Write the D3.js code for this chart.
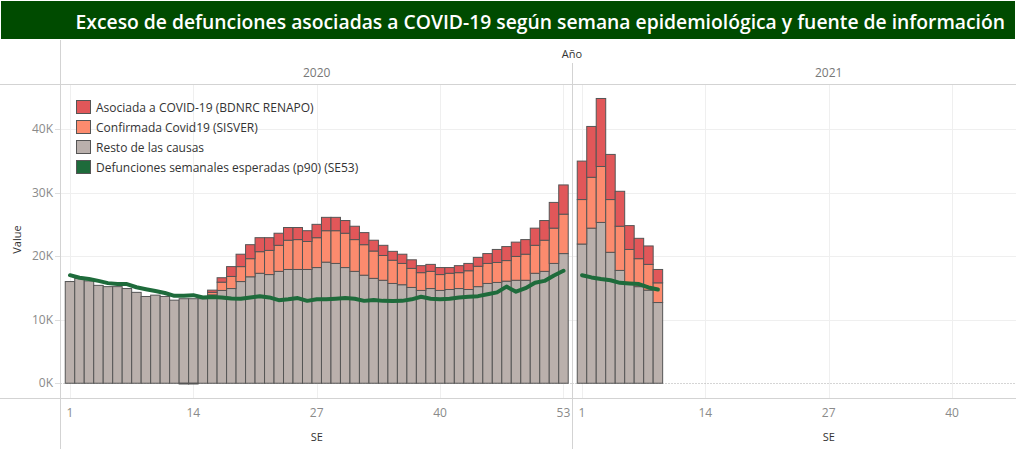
<!DOCTYPE html>
<meta charset="utf-8">
<style>
body { margin: 0; background: #fff; }
svg { display: block; font-family: "Open Sans", sans-serif; }
.grid line { stroke: #efefef; stroke-width: 1px; }
.frame { stroke: #d3d3d3; stroke-width: 1px; }
.tick-label { fill: #8a8a8a; font-size: 12px; }
.bar { stroke: #555; stroke-width: 1px; }
.legend text { fill: #333; font-size: 12px; }
</style>
<body>
<script src="https://cdn.jsdelivr.net/npm/d3@7"></script>
<script>

// data (deaths per epidemiological week)
var titleText = "Exceso de defunciones asociadas a COVID-19 según semana epidemiológica y fuente de información";
var years = ["2020", "2021"];
var seriesNames = ["Asociada a COVID-19 (BDNRC RENAPO)", "Confirmada Covid19 (SISVER)",
                   "Resto de las causas", "Defunciones semanales esperadas (p90) (SE53)"];
var seriesColors = ["#e15759", "#fc8b6e", "#bab0ac", "#1e6b3b"];

var resto2020 = [16000, 16500, 16100, 15400, 15200, 15200, 14900, 14300, 13650, 13860,
                 13650, 13070, 13300, 13300, 13300, 13900, 14600, 14900, 16000, 16750,
                 17300, 17100, 17600, 17900, 17900, 17900, 18200, 19050, 18850, 18200,
                 17600, 17000, 16500, 16200, 15700, 15500, 15070, 14600, 14900, 14600,
                 14750, 14900, 14750, 15200, 15700, 15860, 16060, 16200, 16200, 17300,
                 17600, 18850, 20400];
var confirmada2020 = [0, 0, 0, 0, 0, 0, 0, 0, 0, 0,
                      0, 0, 0, 0, 0, 400, 1300, 1900, 2350, 2850,
                      3400, 3800, 4100, 4600, 4700, 4400, 4700, 4950, 5150, 5400,
                      5000, 4800, 4300, 3900, 3650, 3350, 3000, 2800, 2700, 2500,
                      2550, 2500, 2950, 3200, 3150, 3140, 3240, 3750, 4100, 4400,
                      4900, 5550, 6200];
var asociada2020 = [0, 0, 0, 0, 0, 0, 0, 0, 0, 0,
                    0, 0, -120, -120, 0, 350, 700, 1550, 1950, 2200,
                    2200, 2000, 1900, 2000, 1900, 1700, 2100, 2100, 2100, 2000,
                    2100, 1900, 1700, 1600, 1400, 1450, 1350, 1100, 1100, 1100,
                    900, 1100, 1150, 1400, 1550, 2050, 2200, 2250, 2300, 2700,
                    3100, 4050, 4600];
var esperadas2020 = [17000, 16600, 16400, 16100, 15750, 15600, 15600, 15100, 14800, 14500,
                     14200, 13750, 13750, 13860, 13500, 13550, 13500, 13350, 13300, 13500,
                     13700, 13500, 13070, 13200, 13400, 12960, 13200, 13200, 13300, 13400,
                     13300, 12960, 13100, 12960, 12930, 12960, 13200, 13600, 13300, 13200,
                     13300, 13500, 13600, 13700, 14000, 14300, 15200, 14400, 14960, 15800,
                     16100, 16950, 17700];

var resto2021 = [21900, 24400, 25300, 20600, 17750, 15800, 15200, 14650, 12700];
var confirmada2021 = [7000, 8000, 8800, 8300, 6950, 5250, 4400, 4050, 3100];
var asociada2021 = [6050, 8000, 10700, 7100, 5500, 3750, 3200, 2900, 2100];
var esperadas2021 = [17000, 16650, 16400, 16200, 15800, 15700, 15600, 15070, 14750];

var yTicks = [0, 10000, 20000, 30000, 40000];
var xTicks2020 = [1, 14, 27, 40, 53];
var xTicks2021 = [1, 14, 27, 40];

// layout
var W = 1016, H = 449;
var plotTop = 84.5, plotBottom = 398.5;
var weekStep = 9.49;

function rows(resto, conf, asoc) {
  return resto.map(function(d, i) {
    return {week: i + 1, resto: d, confirmada: conf[i], asociada: asoc[i]};
  });
}

var panes = [
  {year: years[0], left: 60.5, right: 572.5, data: rows(resto2020, confirmada2020, asociada2020),
   line: esperadas2020, ticks: xTicks2020},
  {year: years[1], left: 572.5, right: W, data: rows(resto2021, confirmada2021, asociada2021),
   line: esperadas2021, ticks: xTicks2021}
];

var y = d3.scaleLinear()
    .domain([-2400, 47000])
    .range([plotBottom, plotTop]);

var stack = d3.stack()
    .keys(["resto", "confirmada", "asociada"])
    .offset(d3.stackOffsetDiverging);

var colorOf = {resto: seriesColors[2], confirmada: seriesColors[1], asociada: seriesColors[0]};

var svg = d3.select("body").append("svg")
    .attr("width", W)
    .attr("height", H);

// title bar
svg.append("rect")
    .attr("x", 1).attr("y", 1)
    .attr("width", W - 2).attr("height", 38)
    .attr("fill", "#004b00");

var title = svg.append("text")
    .attr("x", 1005).attr("y", 28.5)
    .attr("text-anchor", "end")
    .attr("fill", "#fff")
    .style("font-weight", 600)
    .style("font-size", "19px")
    .text(titleText);
// fit the title to the width it has in the picture
var tw = title.node().getComputedTextLength();
title.style("font-size", (19 * 930 / tw) + "px");

// header
svg.append("text")
    .attr("x", 572).attr("y", 58)
    .attr("text-anchor", "middle")
    .attr("fill", "#333")
    .style("font-size", "11px")
    .text("Año");

// y axis
var yAxisG = svg.append("g");
yAxisG.selectAll(".ytick")
    .data(yTicks)
  .enter().append("text")
    .attr("class", "tick-label")
    .attr("x", 53)
    .attr("y", function(d) { return y(d); })
    .attr("dy", "0.35em")
    .attr("text-anchor", "end")
    .text(function(d) { return d3.format("d")(d / 1000) + "K"; });

yAxisG.selectAll(".ytickmark")
    .data(yTicks)
  .enter().append("line")
    .attr("x1", 55).attr("x2", 60)
    .attr("y1", function(d) { return Math.round(y(d)) + 0.5; })
    .attr("y2", function(d) { return Math.round(y(d)) + 0.5; })
    .attr("stroke", "#ddd");

svg.append("text")
    .attr("transform", "translate(21," + ((plotTop + plotBottom) / 2 - 2) + ") rotate(-90)")
    .attr("text-anchor", "middle")
    .attr("fill", "#333")
    .style("font-size", "11px")
    .text("Value");

var defs = svg.append("defs");

panes.forEach(function(p, pi) {
  var x = d3.scaleLinear()
      .domain([0, 54])
      .range([p.left, p.left + 54 * weekStep]);

  defs.append("clipPath")
      .attr("id", "clip" + pi)
    .append("rect")
      .attr("x", p.left).attr("y", plotTop)
      .attr("width", p.right - p.left).attr("height", plotBottom - plotTop);

  // year header
  svg.append("text")
      .attr("x", x(27)).attr("y", 77)
      .attr("text-anchor", "middle")
      .attr("fill", "#777")
      .style("font-size", "12px")
      .text(p.year);

  var g = svg.append("g").attr("clip-path", "url(#clip" + pi + ")");

  // grid
  var grid = g.append("g").attr("class", "grid");
  grid.selectAll(".hg")
      .data(yTicks.slice(1))
    .enter().append("line")
      .attr("x1", p.left).attr("x2", p.right)
      .attr("y1", function(d) { return Math.round(y(d)) + 0.5; })
      .attr("y2", function(d) { return Math.round(y(d)) + 0.5; });
  grid.selectAll(".vg")
      .data(p.ticks)
    .enter().append("line")
      .attr("y1", plotTop).attr("y2", plotBottom)
      .attr("x1", function(d) { return Math.round(x(d)) + 0.5; })
      .attr("x2", function(d) { return Math.round(x(d)) + 0.5; });

  // zero line
  g.append("line")
      .attr("x1", p.left).attr("x2", p.right)
      .attr("y1", Math.round(y(0)) + 0.5).attr("y2", Math.round(y(0)) + 0.5)
      .attr("stroke", "#aaa")
      .attr("stroke-dasharray", "1,2");

  // stacked bars
  var layers = stack(p.data);
  g.selectAll(".layer")
      .data(layers)
    .enter().append("g")
      .attr("fill", function(d) { return colorOf[d.key]; })
    .selectAll("rect")
      .data(function(d) { return d.filter(function(e) { return e[1] !== e[0]; }); })
    .enter().append("rect")
      .attr("class", "bar")
      .attr("x", function(d) { return x(d.data.week - 0.5); })
      .attr("width", weekStep)
      .attr("y", function(d) { return y(Math.max(d[0], d[1])); })
      .attr("height", function(d) { return Math.abs(y(d[0]) - y(d[1])); });

  // expected deaths line
  var line = d3.line()
      .x(function(d, i) { return x(i + 1); })
      .y(function(d) { return y(d); });
  g.append("path")
      .datum(p.line)
      .attr("fill", "none")
      .attr("stroke", seriesColors[3])
      .attr("stroke-width", 4)
      .attr("stroke-linejoin", "round")
      .attr("stroke-linecap", "round")
      .attr("d", line);

  // x tick labels
  svg.selectAll(".xt" + pi)
      .data(p.ticks)
    .enter().append("text")
      .attr("class", "tick-label")
      .attr("x", function(d) { return x(d); })
      .attr("y", 417)
      .attr("text-anchor", "middle")
      .text(function(d) { return d; });

  svg.append("text")
      .attr("x", x(27)).attr("y", 441)
      .attr("text-anchor", "middle")
      .attr("fill", "#333")
      .style("font-size", "11px")
      .text("SE");
});

// frame lines
svg.append("line").attr("class", "frame")
    .attr("x1", 0).attr("x2", W).attr("y1", plotTop).attr("y2", plotTop);
svg.append("line").attr("class", "frame")
    .attr("x1", 0).attr("x2", W).attr("y1", plotBottom).attr("y2", plotBottom);
svg.append("line").attr("class", "frame")
    .attr("x1", 60.5).attr("x2", 60.5).attr("y1", 40).attr("y2", H);
svg.append("line").attr("class", "frame")
    .attr("x1", 572.5).attr("x2", 572.5).attr("y1", 63).attr("y2", H);

// legend
var legend = svg.append("g").attr("class", "legend")
    .attr("transform", "translate(76,100)");
var li = legend.selectAll("g")
    .data(seriesNames)
  .enter().append("g")
    .attr("transform", function(d, i) { return "translate(0," + (i * 20) + ")"; });
li.append("rect")
    .attr("x", 0.5).attr("y", 0.5)
    .attr("width", 14).attr("height", 13)
    .attr("fill", function(d, i) { return seriesColors[i]; })
    .attr("stroke", "#555");
li.append("text")
    .attr("x", 20).attr("y", 11.5)
    .text(function(d) { return d; });

</script>
</body>
